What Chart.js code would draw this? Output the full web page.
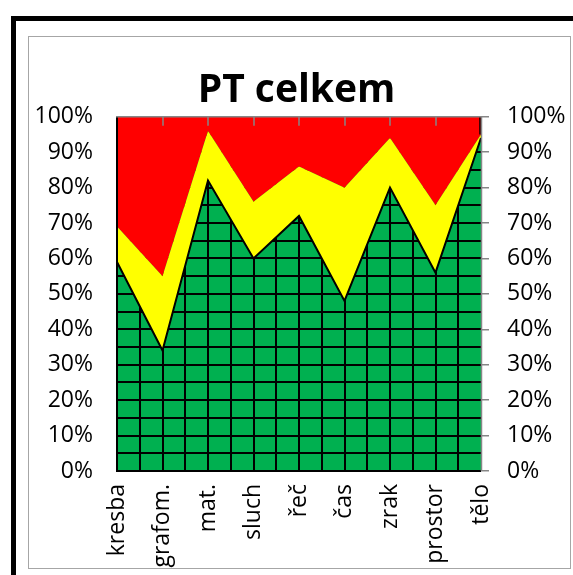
<!DOCTYPE html>
<html>
<head>
<meta charset="utf-8">
<script src="https://cdn.jsdelivr.net/npm/chart.js@4"></script>
<style>
  html, body { margin: 0; padding: 0; background: #fff; overflow: hidden; }
  #ramecek { position: absolute; left: 11px; top: 16px; width: 700px; height: 700px; border: 5px solid #000; }
  #okraj { position: absolute; left: 28px; top: 36px; width: 541px; height: 531px; border: 1px solid #a6a6a6; }
  #graf { position: absolute; left: 0; top: 0; }
</style>
</head>
<body>
<div id="ramecek"></div>
<div id="okraj"></div>
<canvas id="graf" width="573" height="575"></canvas>
<script>
// podíly v procentech pro jednotlivé oblasti
const kategorie = ["kresba", "grafom.", "mat.", "sluch", "řeč", "čas", "zrak", "prostor", "tělo"];
const zelena = [59, 34, 82, 60, 72, 48, 80, 56, 94];
const zluta = [10, 21, 14, 16, 14, 32, 14, 19, 1];
const cervena = [31, 45, 4, 24, 14, 20, 6, 25, 5];

const pismo = "'Open Sans', sans-serif";
const SEDA = "#868686";

// zelené pozadí s mřížkou pod zelenou oblastí
const mrizka = {
  id: "mrizka",
  beforeDatasetsDraw(chart) {
    const { ctx, chartArea: a, scales } = chart;
    ctx.save();
    ctx.fillStyle = "#00b050";
    ctx.fillRect(a.left, a.top, a.right - a.left, a.bottom - a.top);
    ctx.strokeStyle = "#000";
    ctx.lineWidth = 2;
    ctx.beginPath();
    for (let v = 0; v <= 100; v += 5) {
      const y = Math.round(scales.y.getPixelForValue(v));
      ctx.moveTo(a.left, y);
      ctx.lineTo(a.right, y);
    }
    for (let i = 0.5; i < kategorie.length - 1; i += 0.5) {
      const x = Math.round(scales.x.getPixelForValue(i));
      ctx.moveTo(x, a.top);
      ctx.lineTo(x, a.bottom);
    }
    ctx.stroke();
    ctx.restore();
  },
  afterDatasetsDraw(chart) {
    const { ctx, chartArea: a, scales } = chart;
    ctx.save();
    // levý a dolní okraj
    ctx.strokeStyle = "#000";
    ctx.lineWidth = 2;
    ctx.beginPath();
    ctx.moveTo(a.left, a.top);
    ctx.lineTo(a.left, a.bottom);
    ctx.lineTo(a.right, a.bottom);
    ctx.stroke();
    // černý kousek pravého okraje nad poslední hodnotou
    ctx.lineWidth = 1.5;
    ctx.beginPath();
    ctx.moveTo(a.right - 1, a.top);
    ctx.lineTo(a.right - 1, scales.y.getPixelForValue(zelena[8] + zluta[8]));
    ctx.stroke();
    // horní osa se značkami dovnitř
    ctx.strokeStyle = SEDA;
    ctx.lineWidth = 1.5;
    ctx.beginPath();
    ctx.moveTo(a.left - 1, a.top);
    ctx.lineTo(a.right + 1, a.top);
    for (let i = 1; i < kategorie.length - 1; i++) {
      const x = Math.round(scales.x.getPixelForValue(i));
      ctx.moveTo(x, a.top);
      ctx.lineTo(x, a.top + 9);
    }
    // pravá osa
    ctx.moveTo(a.right + 0.5, a.top);
    ctx.lineTo(a.right + 0.5, a.bottom);
    ctx.stroke();
    ctx.restore();
  }
};

const ctx = document.getElementById("graf").getContext("2d");
const graf = new Chart(ctx, {
  type: "line",
  data: {
    labels: kategorie,
    datasets: [
      {
        label: "zelená",
        data: zelena,
        borderColor: "#000",
        borderWidth: 2,
        fill: false,
      },
      {
        label: "žlutá",
        data: zluta,
        borderWidth: 0,
        borderColor: "rgba(0,0,0,0)",
        backgroundColor: "#ffff00",
        fill: "-1",
      },
      {
        label: "červená",
        data: cervena,
        borderWidth: 0,
        borderColor: "rgba(0,0,0,0)",
        backgroundColor: "#ff0000",
        fill: "-1",
      },
    ],
  },
  options: {
    responsive: false,
    animation: false,
    layout: { padding: { left: 20, right: 0, top: 0, bottom: 0 } },
    elements: {
      point: { radius: 0 },
      line: { tension: 0 },
    },
    scales: {
      x: {
        offset: false,
        grid: { display: false, drawTicks: false },
        border: { display: false },
        ticks: {
          autoSkip: false,
          minRotation: 90,
          maxRotation: 90,
          padding: 13,
          color: "#000",
          font: { family: pismo, size: 23 },
        },
        afterFit(s) { s.height = 104; },
      },
      y: {
        stacked: true,
        min: 0,
        max: 100,
        position: "left",
        grid: { display: false, drawTicks: false },
        border: { display: false },
        ticks: {
          stepSize: 10,
          padding: 24,
          color: "#000",
          font: { family: pismo, size: 23 },
          callback: (v) => v + "%",
        },
        afterFit(s) { s.width = 97; },
      },
      y2: {
        position: "right",
        min: 0,
        max: 100,
        grid: { drawOnChartArea: false, color: SEDA, lineWidth: 1.5, tickLength: 8 },
        border: { display: false },
        ticks: {
          stepSize: 10,
          padding: 18,
          color: "#000",
          font: { family: pismo, size: 23 },
          callback: (v) => v + "%",
        },
        afterFit(s) { s.width = 92; },
      },
    },
    plugins: {
      legend: { display: false },
      tooltip: { enabled: false },
      title: {
        display: true,
        text: "PT celkem",
        color: "#000",
        font: { family: pismo, size: 39, weight: "bold" },
        padding: { top: 67, bottom: 3 },
      },
    },
  },
  plugins: [mrizka],
});
</script>
</body>
</html>
